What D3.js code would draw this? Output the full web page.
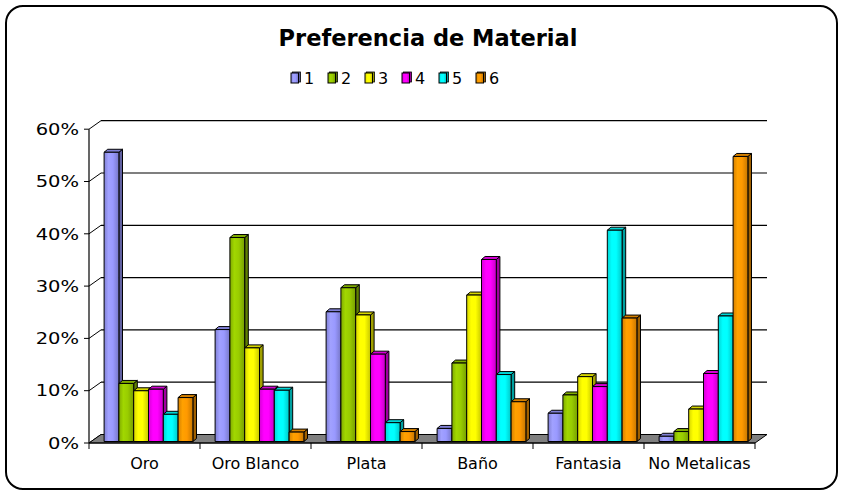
<!DOCTYPE html>
<html><head><meta charset="utf-8">
<script src="https://cdn.jsdelivr.net/npm/d3@7"></script>
<style>
html,body{margin:0;padding:0;background:#fff;}
svg{display:block;font-family:"DejaVu Sans",Verdana,sans-serif;}
</style></head>
<body>
<svg id="chart" width="841" height="490"></svg>
<script>
// ---- data ----
const categories = ["Oro", "Oro Blanco", "Plata", "Baño", "Fantasia", "No Metalicas"];
const seriesNames = ["1", "2", "3", "4", "5", "6"];
const serie1 = [0.553, 0.214, 0.248, 0.025, 0.054, 0.010];
const serie2 = [0.111, 0.390, 0.294, 0.150, 0.089, 0.019];
const serie3 = [0.097, 0.179, 0.242, 0.280, 0.124, 0.062];
const serie4 = [0.100, 0.100, 0.167, 0.348, 0.105, 0.130];
const serie5 = [0.052, 0.098, 0.036, 0.128, 0.404, 0.240];
const serie6 = [0.084, 0.018, 0.019, 0.076, 0.236, 0.545];
const yTickValues = [0, 0.1, 0.2, 0.3, 0.4, 0.5, 0.6];
const title = "Preferencia de Material";

const seriesValues = [serie1, serie2, serie3, serie4, serie5, serie6];
const colors = ["#9999FF", "#99CC00", "#FFFF00", "#FF00FF", "#00FFFF", "#FF9900"];

// ---- layout ----
const svg = d3.select("#chart");
const L = 89, R = 755, B = 443, T = 129.2;
const DX = 12, DY = -8.5;           // depth of the plot box
const BDX = 3.6, BDY = -3;          // depth of each bar
const SX = 4, SY = -1.5;            // bar front-plane shift

const x0 = d3.scaleBand().domain(categories).range([L, R]).paddingInner(0.2).paddingOuter(0.1);
const x1 = d3.scaleBand().domain(seriesNames).range([0, x0.bandwidth()]);
const y = d3.scaleLinear().domain([0, 0.6]).range([B, T]);

// frame
svg.append("rect").attr("x", 6).attr("y", 6).attr("width", 831).attr("height", 483)
  .attr("rx", 17).attr("ry", 17).attr("fill", "#fff").attr("stroke", "#000").attr("stroke-width", 2);

// title
svg.append("text").attr("x", 428).attr("y", 46).attr("text-anchor", "middle")
  .attr("font-weight", "bold").attr("font-size", 22.5).attr("fill", "#000").text(title);

// gradients
const defs = svg.append("defs");
colors.forEach((c, i) => {
  const g = defs.append("linearGradient").attr("id", "g" + i).attr("x1", "0").attr("x2", "1").attr("y1", "0").attr("y2", "0");
  const base = d3.color(c);
  g.append("stop").attr("offset", "0%").attr("stop-color", base.darker(0.5));
  g.append("stop").attr("offset", "30%").attr("stop-color", base.brighter(0.15));
  g.append("stop").attr("offset", "60%").attr("stop-color", base);
  g.append("stop").attr("offset", "100%").attr("stop-color", base.darker(0.7));
});

// walls: gridlines on back wall + side wall diagonals
const gridG = svg.append("g");
yTickValues.forEach(v => {
  const yy = y(v);
  if (v > 0) {
    gridG.append("line").attr("x1", L + DX).attr("x2", R + DX).attr("y1", yy + DY).attr("y2", yy + DY)
      .attr("stroke", "#000").attr("stroke-width", 1.2);
  }
  gridG.append("line").attr("x1", L).attr("y1", yy).attr("x2", L + DX).attr("y2", yy + DY)
    .attr("stroke", "#000").attr("stroke-width", 1);
});

// floor
svg.append("polygon")
  .attr("points", [[L, B], [R, B], [R + DX, B + DY], [L + DX, B + DY]].map(p => p.join(",")).join(" "))
  .attr("fill", "#808080").attr("stroke", "#000").attr("stroke-width", 1);

// bars
const barsG = svg.append("g");
categories.forEach((cat, ci) => {
  seriesNames.forEach((s, si) => {
    const v = seriesValues[si][ci];
    const bw = x1.bandwidth();
    const xl = x0(cat) + x1(s) + SX;
    const xr = xl + bw;
    const yb = y(0) + SY;
    const yt = y(v) + SY;
    const base = d3.color(colors[si]);
    const g = barsG.append("g").attr("stroke", "#000").attr("stroke-width", 1).attr("stroke-linejoin", "round");
    g.append("polygon").attr("points", [[xr, yb], [xr + BDX, yb + BDY], [xr + BDX, yt + BDY], [xr, yt]].map(p => p.join(",")).join(" "))
      .attr("fill", base.darker(1.3));
    g.append("polygon").attr("points", [[xl, yt], [xr, yt], [xr + BDX, yt + BDY], [xl + BDX, yt + BDY]].map(p => p.join(",")).join(" "))
      .attr("fill", base.darker(0.5));
    g.append("rect").attr("x", xl).attr("y", yt).attr("width", bw).attr("height", yb - yt)
      .attr("fill", "url(#g" + si + ")");
  });
});

// y axis
const yAxisG = svg.append("g");
yAxisG.append("line").attr("x1", L).attr("x2", L).attr("y1", T).attr("y2", B).attr("stroke", "#000").attr("stroke-width", 1.2);
yTickValues.forEach(v => {
  yAxisG.append("line").attr("x1", L - 5).attr("x2", L).attr("y1", y(v)).attr("y2", y(v)).attr("stroke", "#000");
  yAxisG.append("text").attr("transform", `translate(79,${y(v)}) scale(1.22,1)`)
    .attr("dy", "0.36em").attr("text-anchor", "end")
    .attr("font-size", 16).attr("fill", "#000").text(d3.format(".0%")(v));
});

// x axis
const xAxisG = svg.append("g");
xAxisG.append("line").attr("x1", L).attr("x2", R).attr("y1", B).attr("y2", B).attr("stroke", "#000").attr("stroke-width", 1.2);
const boundaries = categories.map(c => x0(c) - x0.step() * x0.paddingInner() / 2).concat([R]);
boundaries.forEach((bx, i) => {
  const xx = i === 0 ? L : bx;
  xAxisG.append("line").attr("x1", xx).attr("x2", xx).attr("y1", B).attr("y2", B + 6).attr("stroke", "#000");
});
categories.forEach(c => {
  xAxisG.append("text").attr("x", x0(c) + x0.bandwidth() / 2).attr("y", 469).attr("text-anchor", "middle")
    .attr("font-size", 16).attr("fill", "#000").text(c);
});

// legend
const legendG = svg.append("g");
const lx0 = 291, lstep = 37, ly = 78;
seriesNames.forEach((s, i) => {
  const gx = lx0 + i * lstep;
  const base = d3.color(colors[i]);
  legendG.append("rect").attr("x", gx + 1.5).attr("y", ly - 6).attr("width", 8).attr("height", 10)
    .attr("fill", base.darker(1.5)).attr("stroke", "#000").attr("stroke-width", 0.8);
  legendG.append("rect").attr("x", gx).attr("y", ly - 5).attr("width", 7.5).attr("height", 10)
    .attr("fill", "url(#g" + i + ")").attr("stroke", "#000").attr("stroke-width", 1);
  legendG.append("text").attr("x", gx + 13).attr("y", ly).attr("dy", "0.36em")
    .attr("font-size", 16).attr("fill", "#000").text(s);
});
</script>
</body></html>
